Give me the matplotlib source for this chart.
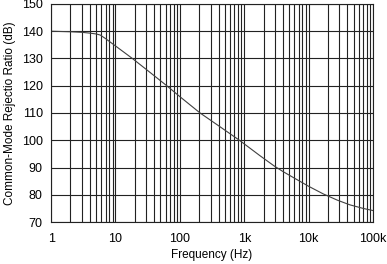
import numpy as np
import matplotlib
matplotlib.use('Agg')
import matplotlib.pyplot as plt
from matplotlib.ticker import LogLocator, NullFormatter

plt.rcParams['font.family'] = ['Liberation Sans', 'DejaVu Sans']

# CMRR vs frequency
freq = [1, 2, 3, 4, 5, 5.8, 7, 10, 18.3, 30, 62.6, 100, 206, 400, 840,
        1760, 2900, 4000, 5800, 10000, 16900, 28000, 43700, 70000, 100000]
cmrr = [140, 139.8, 139.6, 139.3, 139.0, 138.6, 137.3, 134.6, 130, 126, 120, 116, 110, 105.3, 100,
        94.3, 90.6, 88.5, 86.3, 83.1, 80.3, 78.0, 76.3, 75.0, 74.2]

xticks = [1, 10, 100, 1000, 10000, 100000]
xtick_labels = ['1', '10', '100', '1k', '10k', '100k']
yticks = [70, 80, 90, 100, 110, 120, 130, 140, 150]

fig = plt.figure(figsize=(3.87, 2.64), dpi=100)
ax = fig.add_axes([0.132, 0.159, 0.832, 0.826])

ax.plot(freq, cmrr, color='#404040', lw=0.8)

ax.set_xscale('log')
ax.set_xlim(1, 100000)
ax.set_ylim(70, 150)
ax.set_xticks(xticks)
ax.set_xticklabels(xtick_labels)
ax.xaxis.set_minor_locator(LogLocator(base=10, subs=np.arange(2, 10)))
ax.xaxis.set_minor_formatter(NullFormatter())
ax.set_yticks(yticks)

ax.grid(True, which='both', axis='x', color='#222222', lw=0.8)
ax.grid(True, which='major', axis='y', color='#222222', lw=0.8)
ax.tick_params(axis='x', which='both', length=0, labelsize=9, pad=8)
ax.tick_params(axis='y', which='both', length=0, labelsize=9, pad=6)
for s in ax.spines.values():
    s.set_color('#222222')
    s.set_linewidth(0.8)

ax.set_xlabel('Frequency (Hz)', fontsize=8.5, labelpad=3)
ax.set_ylabel('Common-Mode Rejectio Ratio (dB)', fontsize=8.5, labelpad=4)

fig.savefig('out.png', dpi=100)
